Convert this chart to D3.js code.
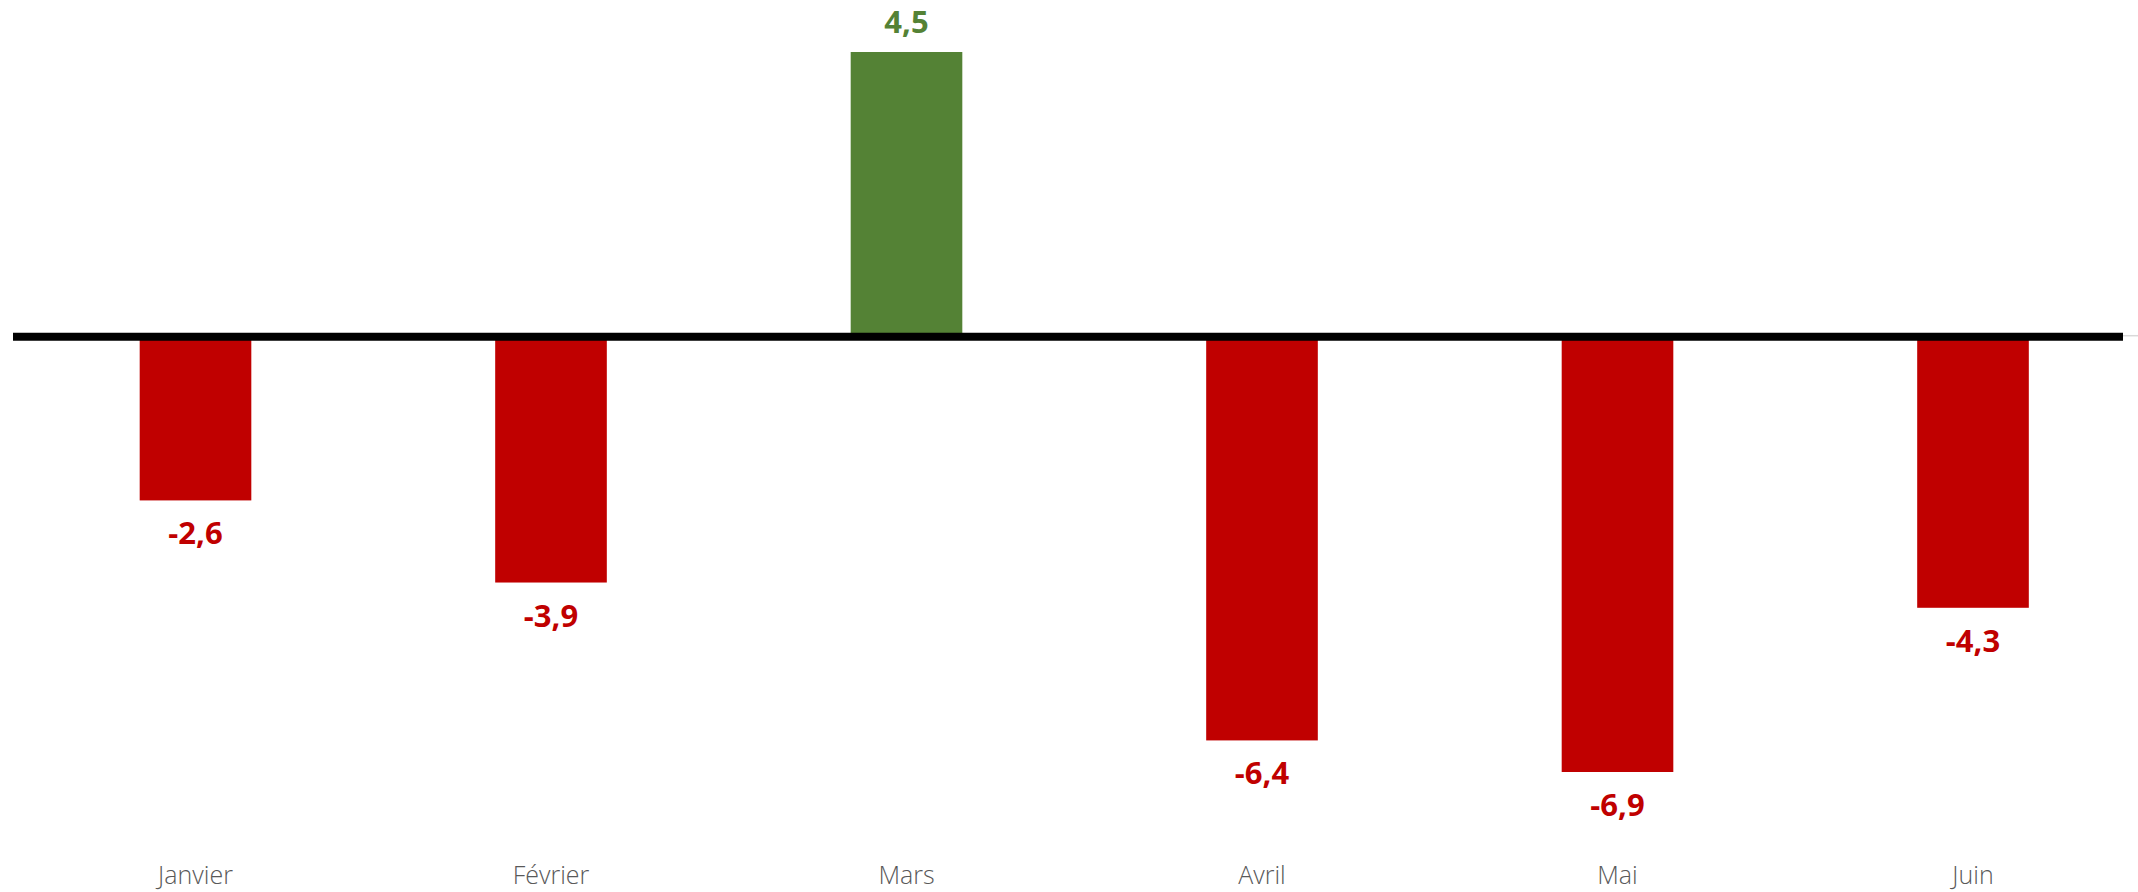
<!DOCTYPE html>
<html>
<head>
<meta charset="utf-8">
<script src="https://cdn.jsdelivr.net/npm/d3@7"></script>
<style>
  html, body { margin: 0; padding: 0; background: #ffffff; }
  svg { display: block; }
</style>
</head>
<body>
<svg id="chart" width="2138" height="892"></svg>
<script>
const categories = ["Janvier", "Février", "Mars", "Avril", "Mai", "Juin"];
const values = [-2.6, -3.9, 4.5, -6.4, -6.9, -4.3];
const valueLabels = ["-2,6", "-3,9", "4,5", "-6,4", "-6,9", "-4,3"];

const W = 2138, H = 892;
const svg = d3.select("#chart");

const x = d3.scaleBand()
  .domain(categories)
  .range([17.75, 2150.75])
  .paddingInner(0.686)
  .paddingOuter(0.343);

const y = d3.scaleLinear()
  .domain([-6.9, 4.5])
  .range([772, 52]);

const red = "#C00000", green = "#548235";
const color = v => v >= 0 ? green : red;

// bars
svg.append("g").selectAll("rect")
  .data(values)
  .join("rect")
  .attr("x", (d, i) => x(categories[i]))
  .attr("width", x.bandwidth())
  .attr("y", d => Math.min(y(d), y(0)))
  .attr("height", d => Math.abs(y(d) - y(0)))
  .attr("fill", d => color(d));

// zero line
svg.append("line")
  .attr("x1", 2123).attr("x2", W)
  .attr("y1", y(0) - 0.5).attr("y2", y(0) - 0.5)
  .attr("stroke", "#d9d9d9").attr("stroke-width", 1.5);
svg.append("line")
  .attr("x1", 13).attr("x2", 2123)
  .attr("y1", y(0) + 0.5).attr("y2", y(0) + 0.5)
  .attr("stroke", "#000").attr("stroke-width", 8);

// value labels
svg.append("g").selectAll("text")
  .data(values)
  .join("text")
  .attr("x", (d, i) => x(categories[i]) + x.bandwidth() / 2)
  .attr("y", d => d >= 0 ? y(d) - 19 : y(d) + 44)
  .attr("text-anchor", "middle")
  .attr("font-family", "'Open Sans', sans-serif")
  .attr("font-weight", 700)
  .attr("font-size", 31)
  .attr("fill", d => color(d))
  .text((d, i) => valueLabels[i]);

// category axis labels
const xAxis = d3.axisBottom(x).tickSize(0).tickPadding(0);
const gx = svg.append("g")
  .attr("transform", "translate(0,864)")
  .call(xAxis);
gx.select(".domain").remove();
gx.selectAll("text")
  .attr("font-family", "'Open Sans', sans-serif")
  .attr("font-weight", 300)
  .attr("font-size", 25)
  .attr("fill", "#595959")
  .attr("dy", 0)
  .attr("y", 20);
</script>
</body>
</html>
